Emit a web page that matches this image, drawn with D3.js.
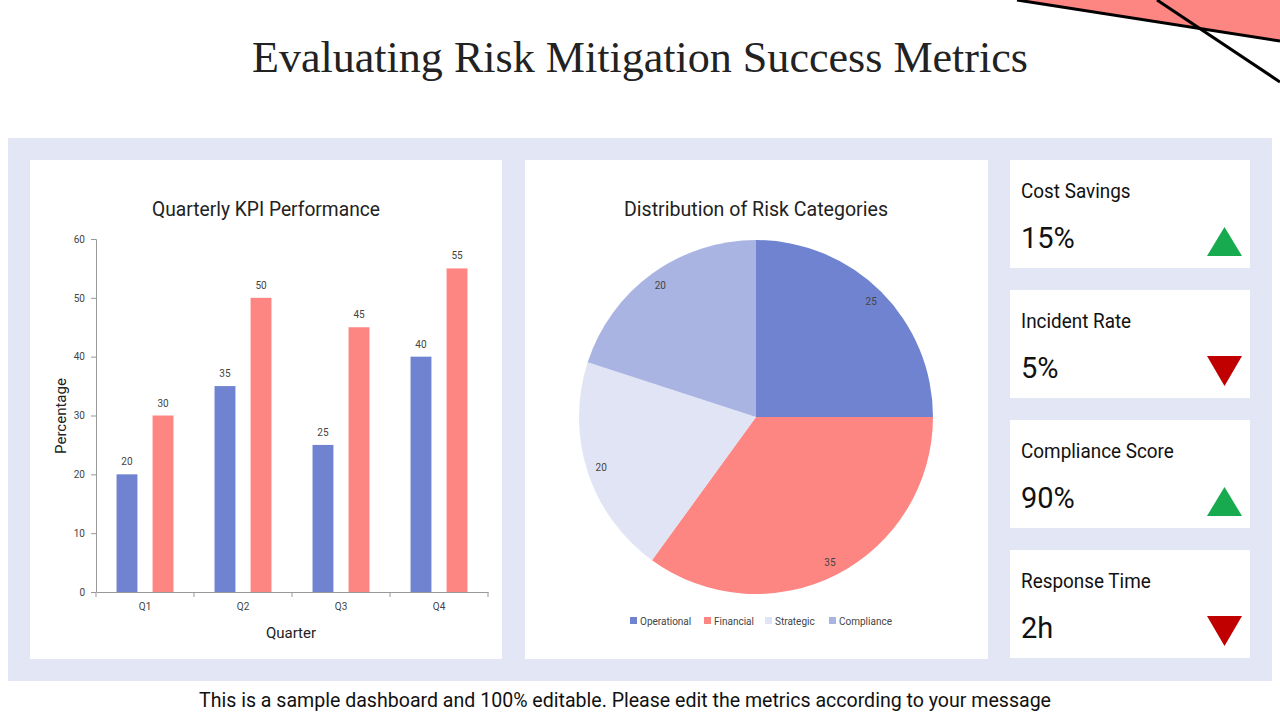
<!DOCTYPE html>
<html>
<head>
<meta charset="utf-8">
<script src="https://cdn.jsdelivr.net/npm/d3@7"></script>
<style>
  body { margin: 0; background: #fff; }
  svg { display: block; font-family: Roboto, "Liberation Sans", sans-serif; }
</style>
</head>
<body>
<svg id="svg1" width="1280" height="720"></svg>
<script>
// data
var quarters = ["Q1", "Q2", "Q3", "Q4"];
var seriesA = [20, 35, 25, 40];
var seriesB = [30, 50, 45, 55];
var yTicks = [0, 10, 20, 30, 40, 50, 60];

var riskCats = ["Operational", "Financial", "Strategic", "Compliance"];
var riskVals = [25, 35, 20, 20];
var riskColors = ["#6f83d1", "#fe8682", "#e1e4f5", "#a9b4e3"];

var kpiNames = ["Cost Savings", "Incident Rate", "Compliance Score", "Response Time"];
var kpiValues = ["15%", "5%", "90%", "2h"];
var kpiTrend = ["up", "down", "up", "down"];

var svg = d3.select("#svg1");

// top-right decoration
svg.append("path")
  .attr("d", "M1017,0 L1280,0 L1280,41 Z")
  .attr("fill", "#fe8682");
svg.append("line").attr("x1", 1017).attr("y1", 0).attr("x2", 1280).attr("y2", 41)
  .attr("stroke", "#000").attr("stroke-width", 3);
svg.append("line").attr("x1", 1157).attr("y1", 0).attr("x2", 1280).attr("y2", 82)
  .attr("stroke", "#000").attr("stroke-width", 3);

// title
svg.append("text")
  .attr("x", 640).attr("y", 72)
  .attr("text-anchor", "middle")
  .attr("font-family", "'Liberation Serif', 'DejaVu Serif', serif")
  .attr("font-size", 44)
  .attr("textLength", 776).attr("lengthAdjust", "spacingAndGlyphs")
  .attr("fill", "#222")
  .text("Evaluating Risk Mitigation Success Metrics");

// panel background
svg.append("rect").attr("x", 8).attr("y", 138).attr("width", 1264).attr("height", 543)
  .attr("fill", "#e3e6f5");

// cards
svg.append("rect").attr("x", 30).attr("y", 160).attr("width", 472).attr("height", 499).attr("fill", "#fff");
svg.append("rect").attr("x", 525).attr("y", 160).attr("width", 463).attr("height", 499).attr("fill", "#fff");

// ---------- bar chart ----------
var margin = {left: 96, top: 239},
  width = 392, height = 353,
  g = svg.append("g").attr("transform", "translate(" + margin.left + "," + margin.top + ")");

var x0 = d3.scaleBand().domain(quarters).range([0, width]).padding(0);
var x1 = d3.scaleBand().domain(["a", "b"]).range([0, x0.bandwidth()])
  .paddingInner(0.42).paddingOuter(0.57);
var y = d3.scaleLinear().domain([0, 60]).range([height, 0]);

var groups = g.selectAll(".grp").data(quarters).enter().append("g")
  .attr("transform", function(d) { return "translate(" + x0(d) + ",0)"; });

groups.append("rect")
  .attr("x", x1("a")).attr("width", x1.bandwidth())
  .attr("y", function(d, i) { return y(seriesA[i]); })
  .attr("height", function(d, i) { return height - y(seriesA[i]); })
  .attr("fill", "#6f83d1");
groups.append("rect")
  .attr("x", x1("b")).attr("width", x1.bandwidth())
  .attr("y", function(d, i) { return y(seriesB[i]); })
  .attr("height", function(d, i) { return height - y(seriesB[i]); })
  .attr("fill", "#fe8682");
groups.append("text")
  .attr("x", x1("a") + x1.bandwidth() / 2)
  .attr("y", function(d, i) { return y(seriesA[i]) - 9; })
  .attr("text-anchor", "middle").attr("font-size", 10).attr("fill", "#444")
  .text(function(d, i) { return seriesA[i]; });
groups.append("text")
  .attr("x", x1("b") + x1.bandwidth() / 2)
  .attr("y", function(d, i) { return y(seriesB[i]) - 9; })
  .attr("text-anchor", "middle").attr("font-size", 10).attr("fill", "#444")
  .text(function(d, i) { return seriesB[i]; });

var yAxis = g.append("g")
  .call(d3.axisLeft(y).tickValues(yTicks).tickSize(5).tickPadding(6));
yAxis.selectAll("line").attr("stroke", "#999");
yAxis.select(".domain").attr("stroke", "#999").attr("d", "M-5,0.5H0.5V" + height);
yAxis.selectAll("text").attr("font-size", 10).attr("fill", "#444").attr("font-family", "Roboto");

var xAxis = g.append("g")
  .attr("transform", "translate(0," + height + ")")
  .call(d3.axisBottom(x0).tickSize(0).tickPadding(11));
xAxis.select(".domain").attr("stroke", "#999");
xAxis.selectAll("text").attr("font-size", 10).attr("fill", "#444").attr("font-family", "Roboto");
xAxis.selectAll(".sep").data(d3.range(quarters.length + 1)).enter().append("line")
  .attr("x1", function(i) { return i * x0.step(); })
  .attr("x2", function(i) { return i * x0.step(); })
  .attr("y1", 0).attr("y2", 5).attr("stroke", "#999");

svg.append("text").attr("x", 266).attr("y", 216).attr("text-anchor", "middle")
  .attr("font-size", 20).attr("fill", "#222")
  .attr("textLength", 228).attr("lengthAdjust", "spacingAndGlyphs")
  .text("Quarterly KPI Performance");
svg.append("text").attr("transform", "translate(66,416) rotate(-90)").attr("text-anchor", "middle")
  .attr("font-size", 15).attr("fill", "#222").text("Percentage");
svg.append("text").attr("x", 291).attr("y", 638).attr("text-anchor", "middle")
  .attr("font-size", 15).attr("fill", "#222").text("Quarter");

// ---------- pie ----------
svg.append("text").attr("x", 756).attr("y", 216).attr("text-anchor", "middle")
  .attr("font-size", 20).attr("fill", "#222")
  .attr("textLength", 264).attr("lengthAdjust", "spacingAndGlyphs")
  .text("Distribution of Risk Categories");

var r = 177;
var pg = svg.append("g").attr("transform", "translate(756,417)");
var pie = d3.pie().sort(null).value(function(d) { return d; });
var arc = d3.arc().innerRadius(0).outerRadius(r);
var labelArc = d3.arc().innerRadius(r * 0.92).outerRadius(r * 0.92);
var arcs = pie(riskVals);
pg.selectAll("path").data(arcs).enter().append("path")
  .attr("d", arc)
  .attr("fill", function(d, i) { return riskColors[i]; });
pg.selectAll("text").data(arcs).enter().append("text")
  .attr("transform", function(d) { return "translate(" + labelArc.centroid(d) + ")"; })
  .attr("text-anchor", "middle").attr("dy", "0.35em")
  .attr("font-size", 10).attr("fill", "#444")
  .text(function(d) { return d.data; });

// legend
var legX = [630, 704, 765, 829];
var lg = svg.append("g");
riskCats.forEach(function(c, i) {
  lg.append("rect").attr("x", legX[i]).attr("y", 617).attr("width", 7).attr("height", 7)
    .attr("fill", riskColors[i]);
  lg.append("text").attr("x", legX[i] + 10).attr("y", 624.5)
    .attr("font-size", 10).attr("fill", "#444").text(c);
});

// ---------- KPI cards ----------
var cardY = d3.scaleBand().domain(kpiNames).range([160, 658]).paddingInner(0.169);
kpiNames.forEach(function(name, i) {
  var top = cardY(name);
  var cg = svg.append("g").attr("transform", "translate(1010," + top + ")");
  cg.append("rect").attr("width", 240).attr("height", cardY.bandwidth()).attr("fill", "#fff");
  cg.append("text").attr("x", 11).attr("y", 38).attr("font-size", 21).attr("fill", "#111")
    .attr("transform", "translate(11,0) scale(0.9,1) translate(-11,0)")
    .text(name);
  cg.append("text").attr("x", 11).attr("y", 88).attr("font-size", 29).attr("fill", "#111").text(kpiValues[i]);
  var up = kpiTrend[i] === "up";
  cg.append("path")
    .attr("d", up ? "M197,96 L232,96 L214.5,67 Z" : "M197,66 L232,66 L214.5,96 Z")
    .attr("fill", up ? "#17aa4f" : "#c00000");
});

// footer
svg.append("text").attr("x", 625).attr("y", 707).attr("text-anchor", "middle")
  .attr("font-size", 20).attr("fill", "#111")
  .attr("textLength", 852).attr("lengthAdjust", "spacingAndGlyphs")
  .text("This is a sample dashboard and 100% editable. Please edit the metrics according to your message");
</script>
</body>
</html>
